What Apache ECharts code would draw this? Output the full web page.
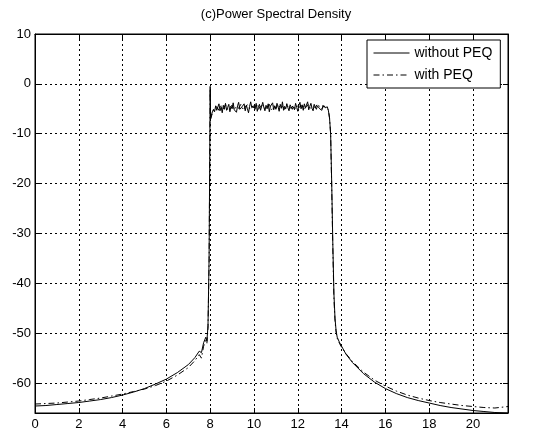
<!DOCTYPE html>
<html>
<head>
<meta charset="utf-8">
<script src="https://cdn.jsdelivr.net/npm/echarts@6/dist/echarts.min.js"></script>
<style>html,body{margin:0;padding:0;background:#fff;}#c{width:542px;height:436px;}</style>
</head>
<body>
<div id="c"></div>
<script>
// ---- data ----
var titleText = '(c)Power Spectral Density';
var seriesNames = ['without PEQ', 'with PEQ'];
var xTicks = [0, 2, 4, 6, 8, 10, 12, 14, 16, 18, 20];
var yTicks = [-60, -50, -40, -30, -20, -10, 0, 10];

// left skirt
var leftX = [0, 0.5, 1, 1.5, 2, 2.5, 3, 3.5, 4, 4.5, 5, 5.5, 6, 6.5, 7, 7.3, 7.5, 7.6, 7.7, 7.8, 7.85, 7.9, 7.95, 8.0, 8.02];
var leftWithout = [-64.6, -64.5, -64.3, -64.1, -63.9, -63.6, -63.3, -62.9, -62.4, -61.8, -61.1, -60.2, -59.2, -57.9, -56.3, -54.9, -53.6, -53.9, -51.9, -50.8, -51.6, -48.5, -35, -0.5, -7];
var leftWith = [-64.2, -64.1, -64.0, -63.8, -63.6, -63.3, -63.0, -62.6, -62.2, -61.7, -61.2, -60.5, -59.6, -58.4, -56.9, -55.5, -54.3, -55.0, -52.6, -51.4, -52.0, -49.0, -36, -1, -7];

// passband (without PEQ), x 8.05 .. 13.30
var bandX = [8.05, 8.1, 8.15, 8.2, 8.25, 8.3, 8.35, 8.4, 8.45, 8.5,
  8.55, 8.6, 8.65, 8.7, 8.75, 8.8, 8.85, 8.9, 8.95, 9.0,
  9.05, 9.1, 9.15, 9.2, 9.25, 9.3, 9.35, 9.4, 9.45, 9.5,
  9.55, 9.6, 9.65, 9.7, 9.75, 9.8, 9.85, 9.9, 9.95, 10.0,
  10.05, 10.1, 10.15, 10.2, 10.25, 10.3, 10.35, 10.4, 10.45, 10.5,
  10.55, 10.6, 10.65, 10.7, 10.75, 10.8, 10.85, 10.9, 10.95, 11.0,
  11.05, 11.1, 11.15, 11.2, 11.25, 11.3, 11.35, 11.4, 11.45, 11.5,
  11.55, 11.6, 11.65, 11.7, 11.75, 11.8, 11.85, 11.9, 11.95, 12.0,
  12.05, 12.1, 12.15, 12.2, 12.25, 12.3, 12.35, 12.4, 12.45, 12.5,
  12.55, 12.6, 12.65, 12.7, 12.75, 12.8, 12.85, 12.9, 12.95, 13.0,
  13.05, 13.1, 13.15, 13.2, 13.25, 13.3];
var bandWithout = [-6.4, -5.6, -5.1, -5.6, -4.4, -5.3, -4.9, -4.0, -5.4, -4.6,
  -5.8, -4.3, -5.1, -3.9, -5.3, -4.7, -4.1, -5.6, -4.5, -5.0,
  -3.8, -5.2, -4.8, -5.7, -4.4, -3.7, -5.1, -5.5, -4.6, -4.9,
  -4.0, -5.4, -4.3, -5.0, -5.8, -4.5, -3.6, -4.8, -5.2, -4.4,
  -5.1, -3.9, -5.5, -4.6, -4.1, -5.3, -4.9, -3.7, -4.7, -5.4,
  -4.3, -5.0, -4.0, -5.6, -4.5, -4.8, -3.8, -5.2, -4.4, -5.1,
  -3.9, -4.6, -5.5, -4.1, -4.9, -3.6, -5.3, -4.5, -5.0, -4.0,
  -4.8, -5.4, -4.2, -3.8, -5.1, -4.6, -5.2, -3.9, -4.7, -5.5,
  -4.3, -3.7, -5.0, -4.2, -5.3, -4.0, -4.8, -4.4, -3.6, -5.2,
  -4.5, -3.9, -4.9, -5.4, -4.1, -3.7, -5.1, -4.4, -4.0, -5.0,
  -4.6, -5.3, -4.3, -3.9, -4.8, -5.2];
// passband (with PEQ), x 8.1 .. 13.3
var bandX2 = [8.1, 8.2, 8.3, 8.4, 8.5, 8.6, 8.7, 8.8, 8.9, 9.0,
  9.1, 9.2, 9.3, 9.4, 9.5, 9.6, 9.7, 9.8, 9.9, 10.0,
  10.1, 10.2, 10.3, 10.4, 10.5, 10.6, 10.7, 10.8, 10.9, 11.0,
  11.1, 11.2, 11.3, 11.4, 11.5, 11.6, 11.7, 11.8, 11.9, 12.0,
  12.1, 12.2, 12.3, 12.4, 12.5, 12.6, 12.7, 12.8, 12.9, 13.0,
  13.1, 13.2, 13.3];
var bandWith = [-5.9, -5.0, -4.6, -5.3, -4.4, -5.0, -4.2, -5.1, -4.7, -4.3,
  -5.2, -4.5, -4.9, -4.1, -5.3, -4.6, -4.2, -5.0, -4.4, -4.8,
  -4.0, -5.1, -4.5, -4.3, -5.0, -4.7, -4.1, -5.2, -4.4, -4.9,
  -4.2, -4.8, -4.5, -5.1, -4.0, -4.6, -4.9, -4.3, -5.0, -4.4,
  -4.7, -4.1, -5.1, -4.5, -4.2, -4.9, -4.4, -4.8, -4.0, -4.6,
  -5.0, -4.4, -4.9];

// right skirt
var rightX = [13.35, 13.4, 13.45, 13.5, 13.55, 13.6, 13.65, 13.7, 13.75, 13.8, 13.9, 14.0, 14.2, 14.5, 15, 15.5, 16, 16.5, 17, 17.5, 18, 18.5, 19, 19.5, 20, 20.5, 21, 21.6];
var rightWithout = [-4.6, -5.4, -6.8, -10, -20, -32, -42, -47, -49.5, -50.8, -51.8, -52.6, -54.2, -55.9, -58.1, -59.8, -61.1, -62.1, -62.9, -63.5, -64.0, -64.5, -64.9, -65.2, -65.5, -65.7, -65.9, -66.0];
var rightWith = [-4.9, -5.2, -6.9, -10, -21, -33, -43, -47.5, -49.8, -51, -52, -52.8, -54.1, -55.7, -57.8, -59.4, -60.6, -61.6, -62.4, -63.0, -63.5, -63.9, -64.2, -64.5, -64.7, -64.9, -65.0, -64.7];

// ---- build series data ----
function zip(xs, ys) { var out = []; for (var i = 0; i < xs.length; i++) out.push([xs[i], ys[i]]); return out; }
var dataWithout = zip(leftX, leftWithout).concat(zip(bandX, bandWithout), zip(rightX, rightWithout));
var dataWith = zip(leftX, leftWith).concat(zip(bandX2, bandWith), zip(rightX, rightWith));

var FONT = "'Liberation Sans', Arial, sans-serif";
var chart = echarts.init(document.getElementById('c'), null, {renderer: 'canvas'});
var gridLine = {show: true, lineStyle: {color: '#000', width: 1, type: [2, 3]}};
var xCommon = {type: 'value', min: 0, max: 21.6, interval: 2};
var yCommon = {type: 'value', min: -66, max: 10, splitNumber: 8, minInterval: 10, maxInterval: 10};
var axLine = {show: true, onZero: false, lineStyle: {color: '#000', width: 1}};
var axTick = {show: true, inside: true, length: 5, lineStyle: {color: '#000'}};

chart.setOption({
  animation: false,
  backgroundColor: '#fff',
  title: {
    text: titleText, left: 271, top: 3, textAlign: 'center',
    textStyle: {fontFamily: FONT, fontSize: 13, fontWeight: 'normal', color: '#000'}
  },
  grid: {left: 35, right: 34, top: 34, bottom: 23, show: true, borderColor: '#000', borderWidth: 1, backgroundColor: 'transparent'},
  legend: {
    data: seriesNames, orient: 'vertical', left: 367, top: 40,
    backgroundColor: '#fff', borderColor: '#000', borderWidth: 1, borderRadius: 0,
    padding: [6, 8, 6, 6], itemGap: 8, itemWidth: 36, itemHeight: 12,
    itemStyle: {color: 'transparent', borderColor: 'transparent', borderWidth: 0},
    lineStyle: {width: 1, color: '#000'},
    textStyle: {fontFamily: FONT, fontSize: 14, color: '#000'}
  },
  xAxis: [
    Object.assign({}, xCommon, {
      position: 'bottom', axisLine: axLine, axisTick: axTick,
      axisLabel: {show: true, color: '#000', fontFamily: FONT, fontSize: 13, margin: 5, showMaxLabel: false,
        formatter: function (v) { return xTicks.indexOf(v) >= 0 ? String(v) : ''; }},
      splitLine: gridLine
    }),
    Object.assign({}, xCommon, {
      position: 'top', axisLine: axLine, axisTick: axTick,
      axisLabel: {show: false}, splitLine: {show: false}
    })
  ],
  yAxis: [
    Object.assign({}, yCommon, {
      position: 'left', axisLine: axLine, axisTick: axTick,
      axisLabel: {show: true, color: '#000', fontFamily: FONT, fontSize: 13, margin: 4, showMinLabel: false,
        formatter: function (v) { return yTicks.indexOf(v) >= 0 ? String(v) : ''; }},
      splitLine: gridLine
    }),
    Object.assign({}, yCommon, {
      position: 'right', axisLine: axLine, axisTick: axTick,
      axisLabel: {show: false}, splitLine: {show: false}
    })
  ],
  series: [
    {
      name: seriesNames[1], type: 'line', xAxisIndex: 0, yAxisIndex: 0,
      data: dataWith, showSymbol: false, symbol: 'none',
      lineStyle: {color: '#000', width: 1, type: [6, 3, 1.5, 3]}, itemStyle: {color: '#000'}, z: 2
    },
    {
      name: seriesNames[0], type: 'line', xAxisIndex: 0, yAxisIndex: 0,
      data: dataWithout, showSymbol: false, symbol: 'none',
      lineStyle: {color: '#000', width: 1, type: 'solid'}, itemStyle: {color: '#000'}, z: 3
    }
  ]
});
</script>
</body>
</html>
